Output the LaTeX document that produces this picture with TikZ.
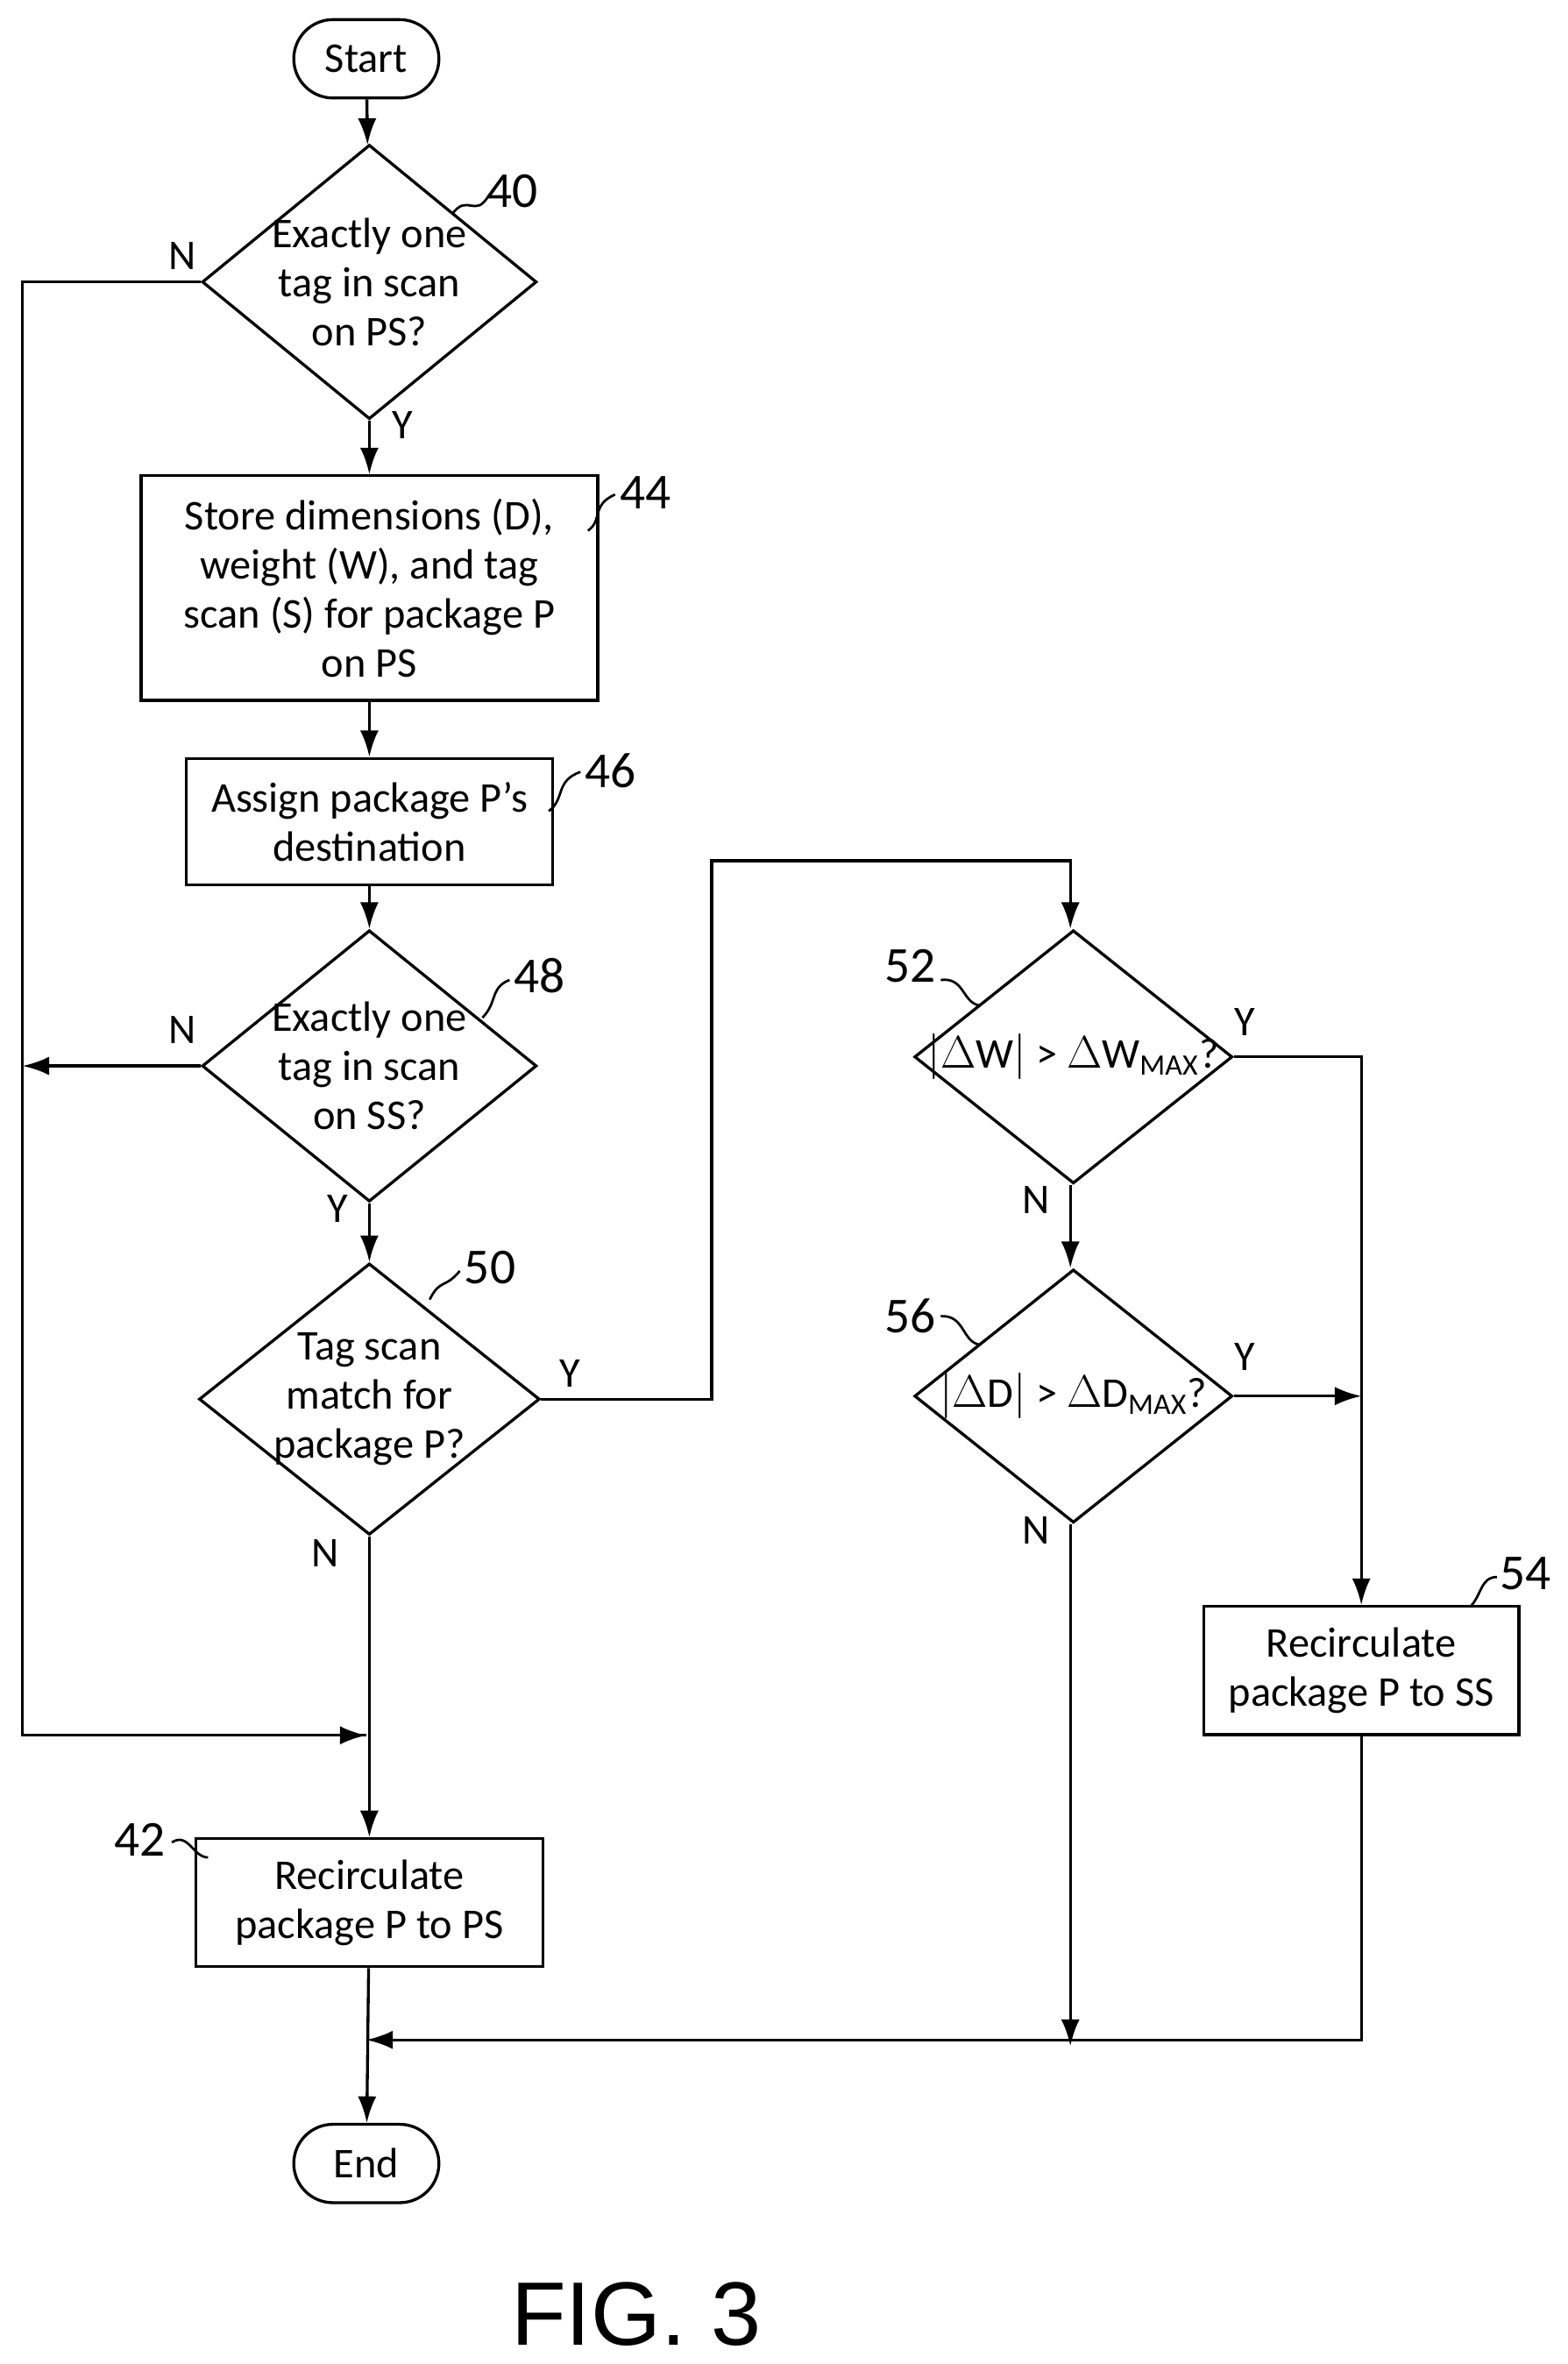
\documentclass[tikz,border=0pt]{standalone}
\usepackage{fontspec}
\setmainfont{Carlito}
\newfontfamily\figfont{Liberation Sans}
\usetikzlibrary{shapes.geometric,shapes.misc,arrows.meta}
\begin{document}
\begin{tikzpicture}[x=0.02cm, y=-0.02cm, line width=1.1pt, font=\fontsize{16}{18.5}\selectfont]
\tikzstyle{term} = [draw, rounded rectangle, minimum width=2.16cm, minimum height=1.04cm]
\tikzstyle{proc} = [draw, rectangle, align=center, inner sep=0pt]
\tikzstyle{dec} = [draw, diamond, align=center, inner sep=-6pt, aspect=1.2]
\tikzstyle{flow} = [-{Latex[length=10pt,width=7pt]}]
\tikzstyle{ref} = [font=\fontsize{19}{22}\selectfont]
\useasboundingbox (0,0) rectangle (1040,1568);
% terminals
\node[term] (start) at (243,39) {Start};
\node[term] (end) at (243,1435) {End};
% left column
\node[dec, minimum width=4.44cm, minimum height=3.64cm] (d40) at (245,187) {Exactly one\\tag in scan\\on PS?};
\node[proc, minimum width=6.06cm, minimum height=2.98cm] (b44) at (245,390) {Store dimensions (D),\\weight (W), and tag\\scan (S) for package P\\on PS};
\node[proc, minimum width=4.86cm, minimum height=1.68cm] (b46) at (245,545) {Assign package P's\\destination};
\node[dec, minimum width=4.44cm, minimum height=3.6cm] (d48) at (245,707) {Exactly one\\tag in scan\\on SS?};
\node[dec, minimum width=4.52cm, minimum height=3.6cm] (d50) at (245,928) {Tag scan\\match for\\package P?};
\node[proc, minimum width=4.6cm, minimum height=1.7cm] (b42) at (245,1262) {Recirculate\\package P to PS};
% right column
\node[dec, minimum width=4.22cm, minimum height=3.36cm] (d52) at (712,701) {$|\Delta\mathrm{W}|$ > $\Delta\mathrm{W}_{\mathrm{MAX}}$?};
\node[dec, minimum width=4.22cm, minimum height=3.36cm] (d56) at (712,926) {$|\Delta\mathrm{D}|$ > $\Delta\mathrm{D}_{\mathrm{MAX}}$?};
\node[proc, minimum width=4.18cm, minimum height=1.7cm] (b54) at (903,1108) {Recirculate\\package P to SS};
% junctions
\coordinate (jl) at (15,187);
\coordinate (jn) at (15,1151);
\coordinate (jm) at (243,1151);
\coordinate (jr) at (903,701);
\coordinate (jd) at (903,926);
\coordinate (jb) at (243,1353);
\coordinate (j50a) at (472,928);
\coordinate (j50b) at (472,571);
\coordinate (j50c) at (710,571);
% connectors
\draw[flow] (start) -- (d40);
\draw[flow] (d40) -- (b44);
\draw[flow] (b44) -- (b46);
\draw[flow] (b46) -- (d48);
\draw[flow] (d48) -- (d50);
\draw (d40.west) -- (jl) -- (jn) -- (jm);
\draw[flow] (jn) -- (jm);
\draw[flow] (d48.west) -- (15,707);
\draw[flow] (d50) -- (b42);
\draw[flow] (b42) -- (end);
\draw[flow] (d50.east) -- (j50a) -- (j50b) -- (j50c) -- (d52.north -| j50c);
\draw (d52.east) -- (jr) -- (jd);
\draw[flow] (jd) -- (b54);
\draw[flow] (d52.south -| j50c) -- (d56.north -| j50c);
\draw[flow] (d56.east) -- (jd);
\draw[flow] (d56.south -| j50c) -- (710,1357);
\draw[flow] (b54) -- (903,1353) -- (jb);
% branch letters
\node at (121,170) {N};
\node at (267,282) {Y};
\node at (121,683) {N};
\node at (224,802) {Y};
\node at (378,911) {Y};
\node at (216,1030) {N};
\node at (826,678) {Y};
\node at (687,796) {N};
\node at (826,900) {Y};
\node at (687,1015) {N};
% reference numerals
\tikzstyle{squig} = [line width=0.9pt]
\node[ref] at (340,127) {40};
\draw[squig] (300,142) .. controls (310,128) and (315,145) .. (324,130);
\node[ref] at (428,327) {44};
\draw[squig] (390,352) .. controls (400,345) and (392,335) .. (408,328);
\node[ref] at (405,511) {46};
\draw[squig] (364,538) .. controls (375,530) and (368,518) .. (385,512);
\node[ref] at (358,647) {48};
\draw[squig] (320,675) .. controls (330,665) and (325,655) .. (338,650);
\node[ref] at (325,841) {50};
\draw[squig] (285,862) .. controls (292,848) and (295,855) .. (305,843);
\node[ref] at (93,1220) {42};
\draw[squig] (114,1222) .. controls (125,1215) and (128,1232) .. (138,1232);
\node[ref] at (604,641) {52};
\draw[squig] (624,650) .. controls (640,648) and (638,665) .. (650,667);
\node[ref] at (604,873) {56};
\draw[squig] (624,873) .. controls (640,872) and (638,890) .. (650,892);
\node[ref] at (1012,1044) {54};
\draw[squig] (975,1066) .. controls (983,1058) and (982,1046) .. (993,1046);
% caption
\node[font=\figfont\fontsize{34}{40}\selectfont] (fig) at (422,1535) {FIG. 3};
\end{tikzpicture}
\end{document}
